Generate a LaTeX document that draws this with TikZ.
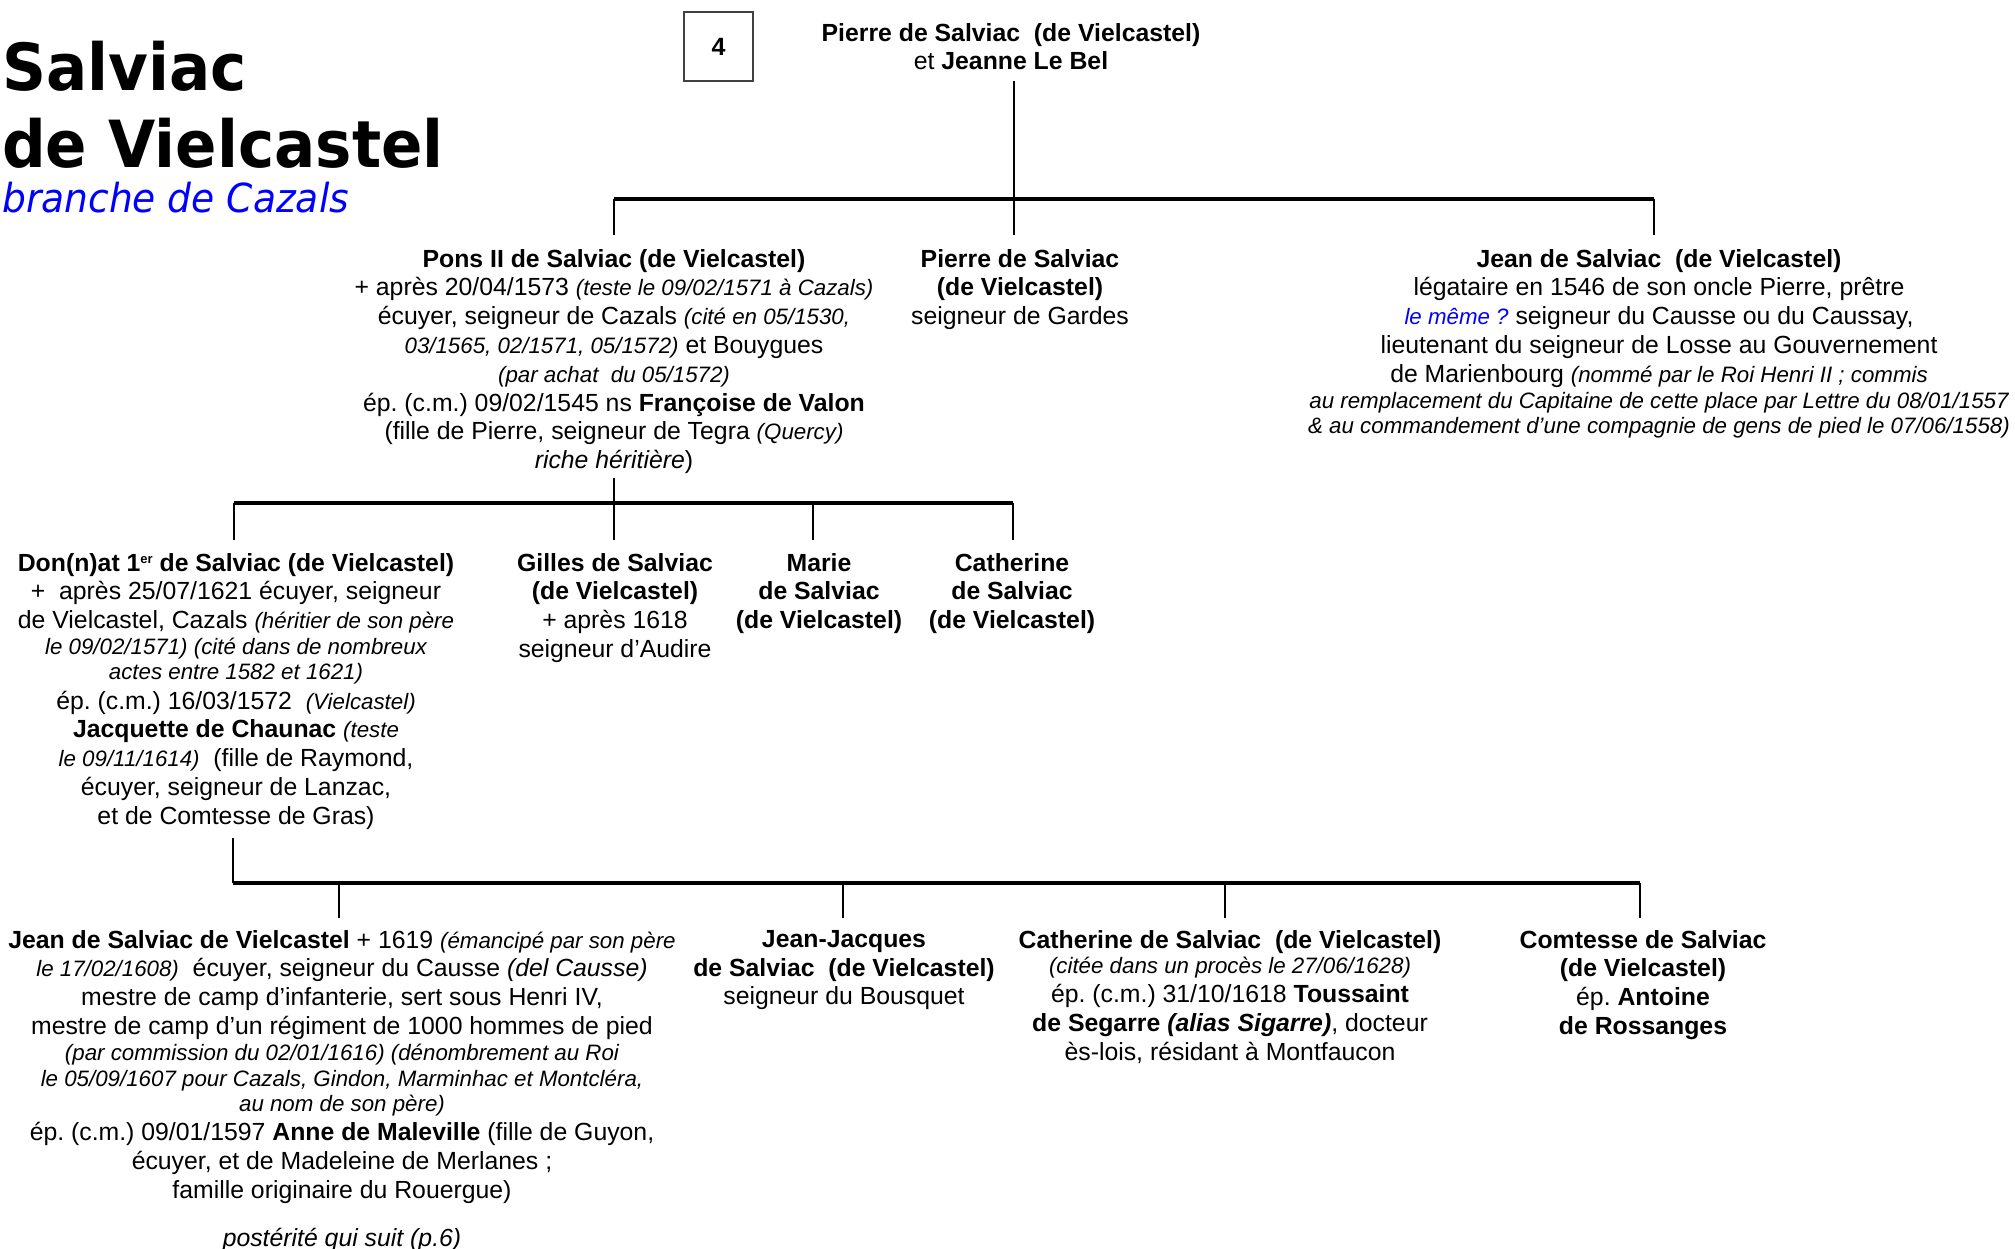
\documentclass[tikz,border=0pt]{standalone}
\usepackage{fontspec}
\setmainfont{Liberation Sans}
\newfontfamily\titlefont[FakeStretch=0.94]{DejaVu Sans}
\newcommand\smi[1]{{\fontsize{22.3}{28.8}\selectfont\itshape #1}}
\newcommand\supsm[1]{\raisebox{8pt}{\fontsize{13}{13}\selectfont #1}}
\definecolor{noteblue}{RGB}{0,0,255}
\frenchspacing
\begin{document}
\frenchspacing
\begin{tikzpicture}[x=1pt,y=-1pt,
  person/.style={align=center, anchor=north, inner sep=0pt, font=\fontsize{24.8}{28.8}\selectfont},
  vl/.style={line width=1.6pt},
  bar/.style={line width=3.2pt},
  titletext/.style={anchor=base west, inner sep=0pt}]
\useasboundingbox[fill=white] (0,0) rectangle (2015,1248);

% title
\node[titletext, font=\titlefont\bfseries\fontsize{65}{70}\selectfont] (t1) at (2,90) {Salviac};
\node[titletext, font=\titlefont\bfseries\fontsize{65}{70}\selectfont] (t2) at (2,167) {de Vielcastel};
\node[titletext, font=\titlefont\itshape\fontsize{40}{44}\selectfont, text=noteblue] (t3) at (2,212) {branche de Cazals};

% page number box
\node[draw=black!75, line width=1.2pt, minimum width=69pt, minimum height=69pt, inner sep=0pt,
      font=\bfseries\fontsize{25}{28}\selectfont] (num) at (718.5,46.5) {4};

% generation 1
\node[person] (couple) at (1011,23) {\textbf{Pierre de Salviac\ \ (de Vielcastel)}\\ et \textbf{Jeanne Le Bel}};

% generation 2
\node[person] (pons) at (614,249) {\textbf{Pons II de Salviac (de Vielcastel)}\\
+ après 20/04/1573 \smi{(teste le 09/02/1571 à Cazals)}\\
écuyer, seigneur de Cazals \smi{(cité en 05/1530,}\\
\smi{03/1565, 02/1571, 05/1572)} et Bouygues\\
\smi{(par achat\ \ du 05/1572)}\\
ép. (c.m.) 09/02/1545 ns \textbf{Françoise de Valon}\\
(fille de Pierre, seigneur de Tegra \smi{(Quercy)}\\
\textit{riche héritière})};

\node[person] (pierre) at (1020,249) {\textbf{Pierre de Salviac}\\ \textbf{(de Vielcastel)}\\ seigneur de Gardes};

\node[person] (jean) at (1659,249) {\textbf{Jean de Salviac\ \ (de Vielcastel)}\\
légataire en 1546 de son oncle Pierre, prêtre\\
\textcolor{noteblue}{\smi{le même ?}} seigneur du Causse ou du Caussay,\\
lieutenant du seigneur de Losse au Gouvernement\\
de Marienbourg \smi{(nommé par le Roi Henri II ; commis}\\[-3pt]
\smi{au remplacement du Capitaine de cette place par Lettre du 08/01/1557}\\[-3pt]
\smi{\& au commandement d’une compagnie de gens de pied le 07/06/1558)}};

% generation 3
\node[person] (donnat) at (236,553) {\textbf{Don(n)at 1\supsm{er} de Salviac (de Vielcastel)}\\
+\ \ après 25/07/1621 écuyer, seigneur\\
de Vielcastel, Cazals \smi{(héritier de son père}\\[-3pt]
\smi{le 09/02/1571) (cité dans de nombreux}\\[-4pt]
\smi{actes entre 1582 et 1621)}\\[1pt]
ép. (c.m.) 16/03/1572\ \ \smi{(Vielcastel)}\\
\textbf{Jacquette de Chaunac} \smi{(teste}\\
\smi{le 09/11/1614)}\ \ (fille de Raymond,\\
écuyer, seigneur de Lanzac,\\
et de Comtesse de Gras)};

\node[person] (gilles) at (615,553) {\textbf{Gilles de Salviac}\\ \textbf{(de Vielcastel)}\\ + après 1618\\ seigneur d’Audire};
\node[person] (marie) at (819,553) {\textbf{Marie}\\ \textbf{de Salviac}\\ \textbf{(de Vielcastel)}};
\node[person] (cath1) at (1012,553) {\textbf{Catherine}\\ \textbf{de Salviac}\\ \textbf{(de Vielcastel)}};

% generation 4
\node[person] (jean2) at (342,930) {\textbf{Jean de Salviac de Vielcastel} + 1619 \smi{(émancipé par son père}\\
\smi{le 17/02/1608)}\ \ écuyer, seigneur du Causse \textit{(del Causse)}\\
mestre de camp d’infanterie, sert sous Henri IV,\\
mestre de camp d’un régiment de 1000 hommes de pied\\[-3pt]
\smi{(par commission du 02/01/1616) (dénombrement au Roi}\\[-3pt]
\smi{le 05/09/1607 pour Cazals, Gindon, Marminhac et Montcléra,}\\[-3pt]
\smi{au nom de son père)}\\
ép. (c.m.) 09/01/1597 \textbf{Anne de Maleville} (fille de Guyon,\\
écuyer, et de Madeleine de Merlanes ;\\
famille originaire du Rouergue)\\[19pt]
\textit{postérité qui suit (p.6)}};

\node[person] (jj) at (844,930) {\textbf{Jean-Jacques}\\ \textbf{de Salviac\ \ (de Vielcastel)}\\ seigneur du Bousquet};

\node[person] (cath2) at (1230,930) {\textbf{Catherine de Salviac\ \ (de Vielcastel)}\\[-3pt]
\smi{(citée dans un procès le 27/06/1628)}\\
ép. (c.m.) 31/10/1618 \textbf{Toussaint}\\
\textbf{de Segarre \textit{(alias Sigarre)}}, docteur\\
ès-lois, résidant à Montfaucon};

\node[person] (comt) at (1643,930) {\textbf{Comtesse de Salviac}\\ \textbf{(de Vielcastel)}\\ ép. \textbf{Antoine}\\ \textbf{de Rossanges}};

% connector junctions
\coordinate (a0) at (1014,81);
\coordinate (a1) at (1014,199);
\coordinate (aL) at (614,199);
\coordinate (aR) at (1654,199);
\coordinate (aLd) at (614,235);
\coordinate (aMd) at (1014,235);
\coordinate (aRd) at (1654,235);

\coordinate (b0) at (614,478);
\coordinate (b1) at (614,503);
\coordinate (bL) at (234,503);
\coordinate (bR) at (1013,503);
\coordinate (b3) at (813,503);
\coordinate (bLd) at (234,540);
\coordinate (b1d) at (614,540);
\coordinate (b3d) at (813,540);
\coordinate (bRd) at (1013,540);

\coordinate (c0) at (233,838);
\coordinate (cL) at (233,883);
\coordinate (cR) at (1640,883);
\coordinate (c1) at (339,883);
\coordinate (c2) at (843,883);
\coordinate (c3) at (1225,883);
\coordinate (c1d) at (339,918);
\coordinate (c2d) at (843,918);
\coordinate (c3d) at (1225,918);
\coordinate (cRd) at (1640,918);

% gen 1 -> 2
\draw[vl] (a0) -- (aMd);
\draw[bar] (aL) -- (aR);
\draw[vl] (aL) -- (aLd);
\draw[vl] (aR) -- (aRd);
% gen 2 -> 3
\draw[vl] (b0) -- (b1d);
\draw[bar] (bL) -- (bR);
\draw[vl] (bL) -- (bLd);
\draw[vl] (b3) -- (b3d);
\draw[vl] (bR) -- (bRd);
% gen 3 -> 4
\draw[vl] (c0) -- (cL);
\draw[bar] (cL) -- (cR);
\draw[vl] (c1) -- (c1d);
\draw[vl] (c2) -- (c2d);
\draw[vl] (c3) -- (c3d);
\draw[vl] (cR) -- (cRd);
\end{tikzpicture}
\end{document}
